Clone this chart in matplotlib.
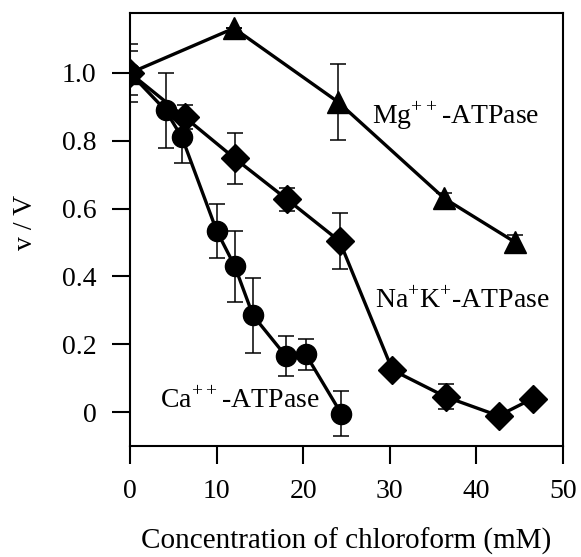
import matplotlib
matplotlib.use('Agg')
import matplotlib.pyplot as plt

plt.rcParams['font.family'] = 'Liberation Serif'
plt.rcParams['mathtext.fontset'] = 'custom'
plt.rcParams['mathtext.rm'] = 'Liberation Serif'

# values
ca_x = [0, 4.1, 6.0, 10.0, 12.1, 14.2, 18.0, 20.3, 24.4]
ca_y = [1.0, 0.89, 0.81, 0.535, 0.43, 0.285, 0.165, 0.17, -0.005]
ca_err = [0.085, 0.11, 0.075, 0.08, 0.105, 0.11, 0.058, 0.045, 0.067]

nak_x = [0, 6.3, 12.1, 18.15, 24.2, 30.3, 36.45, 42.55, 46.5]
nak_y = [1.0, 0.87, 0.748, 0.627, 0.504, 0.124, 0.045, -0.011, 0.04]
nak_err = [0, 0.035, 0.075, 0.033, 0.083, 0, 0.037, 0, 0]

mg_x = [0, 12.0, 24.0, 36.3, 44.4]
mg_y = [1.0, 1.132, 0.915, 0.63, 0.502]
mg_err = [0.065, 0, 0.112, 0.015, 0.02]

xticks = [0, 10, 20, 30, 40, 50]
yticks = [0, 0.2, 0.4, 0.6, 0.8, 1.0]
yticklabels = ['0', '0.2', '0.4', '0.6', '0.8', '1.0']

fig = plt.figure(figsize=(5.81, 5.57), dpi=100)
ax = fig.add_axes([0.2238, 0.1993, 0.7453, 0.7774])

# error bars first so the markers sit on top of them
for x, y, e in [(ca_x, ca_y, ca_err), (nak_x, nak_y, nak_err), (mg_x, mg_y, mg_err)]:
    ax.errorbar(x, y, yerr=e, fmt='none', ecolor='black', elinewidth=1.1,
                capsize=6, capthick=1.1, zorder=2)

ax.plot(ca_x, ca_y, color='black', lw=2.4, marker='o', ms=14.5, zorder=3)
ax.plot(nak_x, nak_y, color='black', lw=2.4, marker='D', ms=14.5, zorder=3)
ax.plot(mg_x, mg_y, color='black', lw=2.4, marker='^', ms=15.5, zorder=3)

ax.text(27.9, 0.85, r'Mg$^{++}$-ATPase', fontsize=20, va='baseline')
ax.text(28.3, 0.307, r'Na$^{+}$K$^{+}$-ATPase', fontsize=20, va='baseline')
ax.text(3.46, 0.011, r'Ca$^{++}$-ATPase', fontsize=20, va='baseline')

ax.set_xlim(0, 50)
ax.set_ylim(-0.1, 1.177)
ax.set_xticks(xticks)
ax.set_yticks(yticks)
ax.set_yticklabels(yticklabels)
ax.tick_params(direction='out', length=13, width=1.5, labelsize=20)
ax.tick_params(axis='x', pad=11)
ax.tick_params(axis='y', pad=11)
for s in ax.spines.values():
    s.set_linewidth(1.5)

ax.set_xlabel('Concentration of chloroform (mM)', fontsize=21, labelpad=17)
ax.set_ylabel('v / V', fontsize=20)
ax.yaxis.set_label_coords(-0.213, 0.517)

fig.savefig('out.png', dpi=100)
